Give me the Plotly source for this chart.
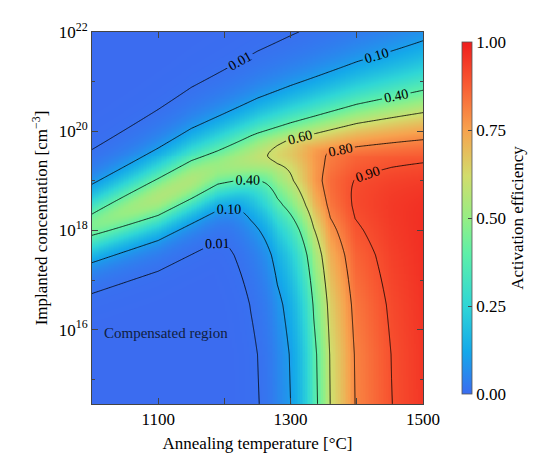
import numpy as np
import plotly.graph_objects as go

# --- data (model knots) ---
T_axis = np.arange(1000, 1500.01, 2.5)            # annealing temperature, degC
L_axis = np.arange(14.5, 22.001, 0.02)            # log10 concentration

# solubility limit: log10 N_sol and steepness vs T
sol_T = [1000, 1100, 1150, 1200, 1250, 1300, 1400, 1500]
sol_L = [18.3, 18.95, 19.3, 19.55, 19.8, 20.0, 20.35, 20.6]
sol_q_T = [1000, 1250, 1500]
sol_q = [1.5, 1.1, 0.78]

# compensation threshold (upper-left band)
comp_T = [1000, 1100, 1190, 1300, 1500]
comp_L = [17.9, 18.35, 18.95, 19.3, 19.5]
comp_p = 1.7

# thermal activation log10 F(T)
act_T = [1000, 1100, 1150, 1189, 1217, 1240, 1261, 1280, 1300, 1335, 1360, 1397, 1453, 1500]
act_logF = [-20, -12, -8, -3.9, -3.0, -2.3, -1.8, -1.3, -1.0, -0.45, -0.22, -0.097, -0.046, -0.022]

# concentration-enhanced activation exponent
exp_L = [14.5, 15.5, 16.5, 17.5, 18.0, 18.5, 19.0, 19.5, 20.0, 22.0]
exp_e = [1.0, 0.97, 0.85, 0.65, 0.5, 0.33, 0.2, 0.12, 0.08, 0.05]

levels = [0.01, 0.10, 0.40, 0.60, 0.80, 0.90]
x_ticks = [1000, 1100, 1200, 1300, 1400, 1500]
x_text = ["", "1100", "", "1300", "", "1500"]
y_ticks = [16, 18, 20, 22]
y_text = ["10<sup>16</sup>", "10<sup>18</sup>", "10<sup>20</sup>", "10<sup>22</sup>"]

# --- build field ---
TT, LL = np.meshgrid(T_axis, L_axis)
Ls = np.interp(TT, sol_T, sol_L)
q = np.interp(TT, sol_q_T, sol_q)
s = 1.0 / (1.0 + 10 ** (q * (LL - Ls)))
Lc = np.interp(TT, comp_T, comp_L)
c = 1.0 / (1.0 + 10 ** (-comp_p * (LL - Lc)))
e = np.interp(LL, exp_L, exp_e)
f = 10 ** (np.interp(TT, act_T, act_logF) * e)
k = 4.0
g = np.minimum((f ** k + c ** k) ** (1 / k), 1.0)
eff = np.clip(s * g, 0, 1)

font = "Liberation Serif"
cscale = [[0, '#3b6cf0'], [0.12, '#14a8ea'], [0.25, '#2fd6d6'], [0.4, '#5ef0a8'],
          [0.5, '#96ee84'], [0.62, '#d2dc6c'], [0.75, '#f7a24e'], [0.88, '#f85a32'], [1, '#ef1d1d']]

fig = go.Figure()
fig.add_trace(go.Heatmap(
    x=T_axis, y=L_axis, z=eff, zmin=0, zmax=1, colorscale=cscale,
    colorbar=dict(x=1.088, xanchor='left', y=0.5, len=1.0, lenmode='fraction', thickness=10,
                  outlinewidth=0.8, outlinecolor='#555', tickvals=[0, 0.25, 0.5, 0.75, 1],
                  ticktext=["0.00", "0.25", "0.50", "0.75", "1.00"], ticks='inside', ticklen=4,
                  tickfont=dict(family=font, size=17, color='black'),
                  title=dict(text="Activation efficiency", side='right',
                             font=dict(family=font, size=17, color='black')))))
for v in levels:
    fig.add_trace(go.Contour(
        x=T_axis, y=L_axis, z=eff, showscale=False, hoverinfo='skip',
        colorscale=[[0, 'black'], [1, 'black']],
        contours=dict(start=v, end=v, size=1, coloring='lines', showlabels=True,
                      labelformat='.2f', labelfont=dict(family=font, size=14, color='black')),
        line=dict(width=0.8, color='black')))

fig.add_annotation(x=1015, y=15.94, text="Compensated region", showarrow=False,
                   xanchor='left', font=dict(family=font, size=15, color='#102040'))

fig.update_layout(
    width=550, height=471, margin=dict(l=84, r=135, t=22, b=75),
    paper_bgcolor='white', plot_bgcolor='white', showlegend=False,
    font=dict(family=font, color='black'))
fig.update_xaxes(range=[1000, 1500], tickvals=x_ticks, ticktext=x_text, ticks='inside', ticklen=6,
                 mirror='ticks', showline=True, linecolor='#444', linewidth=1, showgrid=False, zeroline=False,
                 tickfont=dict(family=font, size=17, color='black'),
                 title=dict(text="Annealing temperature [°C]", font=dict(family=font, size=17, color='black'),
                            standoff=8))
fig.update_yaxes(range=[14.5, 22], tickvals=y_ticks, ticktext=y_text, ticks='inside', ticklen=6,
                 mirror='ticks', showline=True, linecolor='#444', linewidth=1, showgrid=False, zeroline=False,
                 minor=dict(tickvals=[15, 17, 19, 21], ticks='inside', ticklen=3),
                 tickfont=dict(family=font, size=17, color='black'),
                 title=dict(text="Implanted concentration [cm<sup>−3</sup>]",
                            font=dict(family=font, size=17, color='black'), standoff=6))
fig.write_html("out.html")
